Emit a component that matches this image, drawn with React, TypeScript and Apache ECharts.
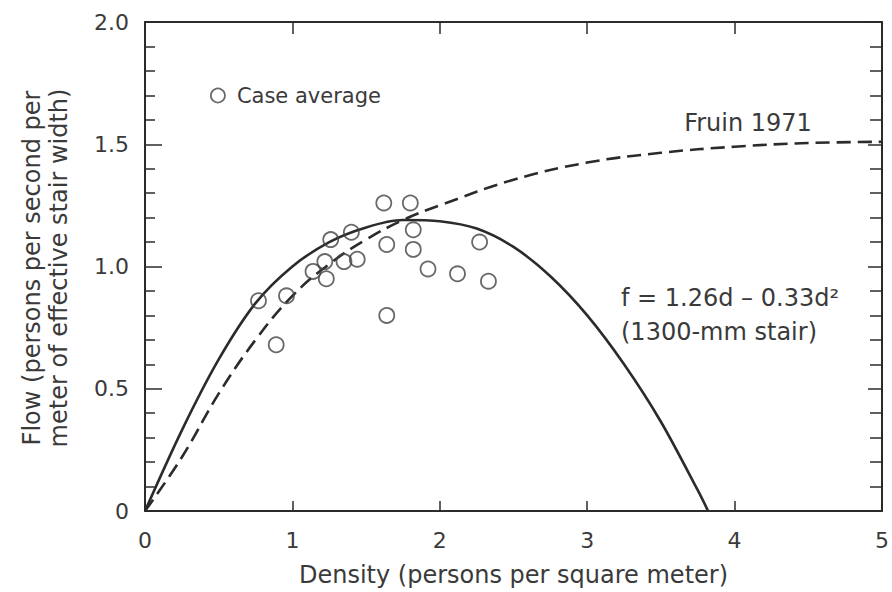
import React, { useEffect, useRef } from "react";
import * as echarts from "echarts";

// Case averages (density, flow)
const caseDensity = [0.77, 0.96, 0.89, 1.26, 1.40, 1.62, 1.80, 1.82, 1.64, 1.82, 1.14, 1.22, 1.23, 1.35, 1.44, 1.92, 2.12, 2.27, 2.33, 1.64];
const caseFlow = [0.86, 0.88, 0.68, 1.11, 1.14, 1.26, 1.26, 1.15, 1.09, 1.07, 0.98, 1.02, 0.95, 1.02, 1.03, 0.99, 0.97, 1.10, 0.94, 0.80];

// Fitted curve f = 1.26d - 0.33d^2 (1300-mm stair)
const fitDensity = [0, 0.25, 0.5, 0.75, 1, 1.25, 1.5, 1.75, 2, 2.25, 2.5, 2.75, 3, 3.25, 3.5, 3.75, 3.82];
const fitFlow = [0, 0.33, 0.62, 0.85, 1.0, 1.1, 1.16, 1.19, 1.185, 1.155, 1.08, 0.96, 0.8, 0.6, 0.365, 0.085, 0];

// Fruin 1971 curve
const fruinDensity = [0, 0.25, 0.5, 0.75, 1, 1.25, 1.5, 1.75, 2, 2.5, 3, 3.5, 4, 4.5, 5];
const fruinFlow = [0, 0.22, 0.48, 0.7, 0.88, 1.01, 1.11, 1.19, 1.25, 1.355, 1.425, 1.465, 1.49, 1.505, 1.51];

const xTitle = "Density (persons per square meter)";
const yTitle = "Flow (persons per second per\nmeter of effective stair width)";

const FONT = "DejaVu Sans";
const TXT = "#3a3a3a";
const LINE = "#2b2b2b";

export default function App() {
  const ref = useRef<HTMLDivElement>(null);
  useEffect(() => {
    document.body.style.margin = "0";
    const chart = echarts.init(ref.current!, null, { renderer: "svg" });
    const zip = (a: number[], b: number[]) => a.map((v, i) => [v, b[i]]);
    const axisCommon = {
      type: "value" as const,
      axisLine: { show: true, onZero: false, lineStyle: { color: LINE, width: 2 } },
      splitLine: { show: false },
    };
    chart.setOption({
      animation: false,
      backgroundColor: "#fff",
      textStyle: { fontFamily: FONT },
      grid: { left: 145, right: 4, top: 22, bottom: 81, containLabel: false },
      legend: {
        data: [
          {
            name: "Case average",
            icon: "circle",
            itemStyle: { color: "rgba(255,255,255,0)", borderColor: "#444", borderWidth: 1.8 },
          },
        ],
        left: 205,
        top: 80,
        itemWidth: 14,
        itemHeight: 14,
        textStyle: { fontFamily: FONT, fontSize: 21, color: TXT, padding: [0, 0, 0, 7] },
      },
      xAxis: [
        {
          ...axisCommon,
          position: "bottom",
          min: 0,
          max: 5,
          interval: 1,
          axisTick: { show: true, inside: true, length: 10, lineStyle: { color: LINE, width: 1.5 } },
          axisLabel: { fontSize: 22, color: TXT, margin: 18, fontFamily: FONT },
          name: xTitle,
          nameLocation: "middle",
          nameGap: 52,
          nameTextStyle: { fontSize: 24, color: TXT, fontFamily: FONT },
        },
        {
          ...axisCommon,
          position: "top",
          min: 0,
          max: 5,
          interval: 1,
          axisTick: { show: true, inside: true, length: 12, lineStyle: { color: LINE, width: 1.5 } },
          axisLabel: { show: false },
        },
      ],
      yAxis: [
        {
          ...axisCommon,
          position: "left",
          min: 0,
          max: 2,
          interval: 0.5,
          axisTick: { show: true, inside: true, length: 17, lineStyle: { color: LINE, width: 1.5 } },
          minorTick: { show: true, splitNumber: 5, length: 10, lineStyle: { color: LINE, width: 1.5 } },
          axisLabel: {
            fontSize: 22,
            color: TXT,
            margin: 16,
            fontFamily: FONT,
            formatter: (v: number) => (v === 0 ? "0" : v.toFixed(1)),
          },
        },
        {
          ...axisCommon,
          position: "right",
          min: 0,
          max: 2,
          interval: 0.5,
          axisTick: { show: true, inside: true, length: 14, lineStyle: { color: LINE, width: 1.5 } },
          minorTick: { show: true, splitNumber: 5, length: 12, lineStyle: { color: LINE, width: 1.5 } },
          axisLabel: { show: false },
        },
      ],
      graphic: [
        {
          type: "text",
          x: 45,
          y: 268,
          rotation: Math.PI / 2,
          style: {
            text: yTitle,
            font: `24px "${FONT}"`,
            fill: TXT,
            align: "center",
            verticalAlign: "middle",
            lineHeight: 27,
          },
        },
        {
          type: "text",
          x: 748,
          y: 123,
          style: { text: "Fruin 1971", font: `24px "${FONT}"`, fill: TXT, align: "center", verticalAlign: "middle" },
        },
        {
          type: "text",
          x: 621,
          y: 315,
          style: {
            text: "f = 1.26d – 0.33d²\n(1300-mm stair)",
            font: `24px "${FONT}"`,
            fill: TXT,
            align: "left",
            verticalAlign: "middle",
            lineHeight: 34,
          },
        },
      ],
      series: [
        {
          name: "f = 1.26d – 0.33d²",
          type: "line",
          data: zip(fitDensity, fitFlow),
          smooth: 0.3,
          symbol: "none",
          lineStyle: { color: LINE, width: 2.6 },
          z: 3,
        },
        {
          name: "Fruin 1971",
          type: "line",
          data: zip(fruinDensity, fruinFlow),
          smooth: 0.4,
          symbol: "none",
          lineStyle: { color: LINE, width: 2.6, type: [14, 7] },
          z: 3,
        },
        {
          name: "Case average",
          type: "scatter",
          data: zip(caseDensity, caseFlow),
          symbol: "circle",
          symbolSize: 15,
          itemStyle: { color: "rgba(255,255,255,0)", borderColor: "#444", borderWidth: 1.8 },
          z: 4,
        },
      ],
    });
    return () => chart.dispose();
  }, []);
  return <div ref={ref} style={{ width: 892, height: 592 }} />;
}
